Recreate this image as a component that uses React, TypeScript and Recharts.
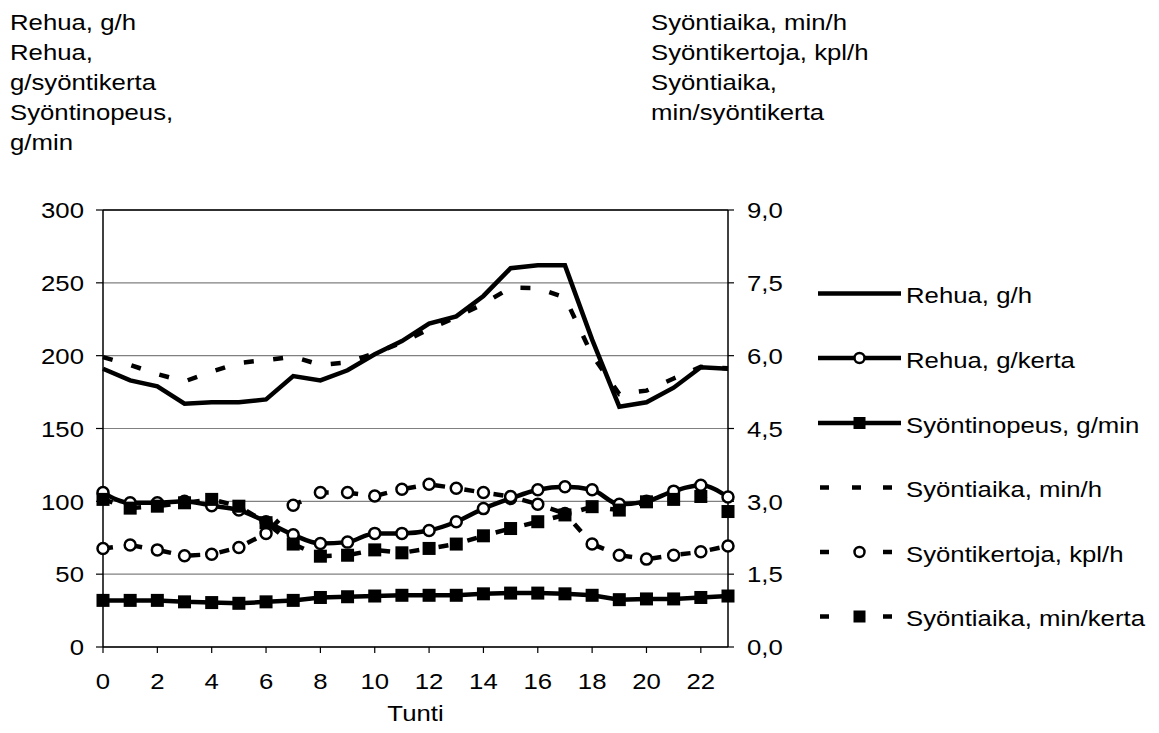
import React from 'react';
import { LineChart, Line, XAxis, YAxis, CartesianGrid, ReferenceLine } from 'recharts';

const hours = [0, 1, 2, 3, 4, 5, 6, 7, 8, 9, 10, 11, 12, 13, 14, 15, 16, 17, 18, 19, 20, 21, 22, 23];
// left axis (g/h, g/kerta, g/min)
const rehuaGh = [191, 183, 179, 167, 168, 168, 170, 186, 183, 190, 201, 210, 222, 227, 241, 260, 262, 262, 211, 165, 168, 178, 192, 191];
const rehuaGKerta = [106, 99, 99, 100, 97, 94, 86, 77, 71, 72, 78, 78, 80, 86, 95, 102, 108, 110, 108, 98, 100, 107, 111, 103];
const syontinopeus = [32, 32, 32, 31, 30.5, 30, 31, 32, 34, 34.5, 35, 35.5, 35.5, 35.5, 36.5, 37, 37, 36.5, 35.5, 32.5, 33, 33, 34, 35];
// right axis (min/h, kpl/h, min/kerta)
const syontiaikaMinH = [5.97, 5.81, 5.62, 5.47, 5.67, 5.85, 5.91, 5.98, 5.81, 5.86, 6.05, 6.27, 6.55, 6.79, 7.07, 7.4, 7.39, 7.2, 6.01, 5.21, 5.28, 5.53, 5.77, 5.74];
const syontikertoja = [2.03, 2.1, 2.0, 1.88, 1.91, 2.05, 2.34, 2.92, 3.18, 3.18, 3.11, 3.25, 3.35, 3.27, 3.18, 3.1, 2.94, 2.75, 2.12, 1.89, 1.81, 1.89, 1.96, 2.08];
const syontiaikaMinKerta = [3.04, 2.86, 2.9, 2.97, 3.04, 2.9, 2.56, 2.12, 1.87, 1.89, 2.0, 1.94, 2.03, 2.12, 2.29, 2.44, 2.58, 2.72, 2.89, 2.82, 2.99, 3.04, 3.1, 2.79];

const leftTicks = [0, 50, 100, 150, 200, 250, 300];
const rightTicks = [0, 1.5, 3, 4.5, 6, 7.5, 9];
const xTicks = [0, 2, 4, 6, 8, 10, 12, 14, 16, 18, 20, 22];
const xTitle = 'Tunti';

const seriesNames = [
  'Rehua, g/h',
  'Rehua, g/kerta',
  'Syöntinopeus, g/min',
  'Syöntiaika, min/h',
  'Syöntikertoja, kpl/h',
  'Syöntiaika, min/kerta',
];
const leftTitleLines = ['Rehua, g/h', 'Rehua,', 'g/syöntikerta', 'Syöntinopeus,', 'g/min'];
const rightTitleLines = ['Syöntiaika, min/h', 'Syöntikertoja, kpl/h', 'Syöntiaika,', 'min/syöntikerta'];

const data = hours.map((h, i) => ({
  hour: h,
  gh: rehuaGh[i],
  gk: rehuaGKerta[i],
  gmin: syontinopeus[i],
  minh: syontiaikaMinH[i],
  kpl: syontikertoja[i],
  mink: syontiaikaMinKerta[i],
}));

const FONT = "'Liberation Sans', Arial, sans-serif";
const FS = 23;
const SX = 1.12;
const DASH = '10 19.5';
const LW = 4.5;

function STxt({ x, y, anchor = 'start', dy, children }: any) {
  return (
    <text
      transform={`translate(${x},${y}) scale(${SX},1)`}
      textAnchor={anchor}
      dy={dy}
      fontSize={FS}
      fontFamily={FONT}
      fill="#000"
    >
      {children}
    </text>
  );
}

const LeftTick = (p: any) => (
  <STxt x={p.x} y={p.y} anchor="end" dy="0.355em">{String(p.payload.value)}</STxt>
);
const RightTick = (p: any) => (
  <STxt x={p.x} y={p.y} anchor="start" dy="0.355em">
    {Number(p.payload.value).toFixed(1).replace('.', ',')}
  </STxt>
);
const BottomTick = (p: any) => (
  <STxt x={p.x} y={p.y} anchor="middle" dy="0.71em">{String(p.payload.value)}</STxt>
);

const circleDot = (p: any) => {
  if (p.cx == null || p.cy == null) return <g key={`c-${p.index}`} />;
  return (
    <circle
      key={`c-${p.dataKey}-${p.index}`}
      cx={p.cx}
      cy={p.cy}
      r={5.5}
      fill="#fff"
      stroke="#000"
      strokeWidth={2.5}
      strokeDasharray="none"
    />
  );
};
const squareDot = (p: any) => {
  if (p.cx == null || p.cy == null) return <g key={`s-${p.index}`} />;
  return <rect key={`s-${p.dataKey}-${p.index}`} x={p.cx - 6.5} y={p.cy - 6.5} width={13} height={13} fill="#000" />;
};

const legendRows = [293.5, 358, 423, 487.5, 552, 616.5];
const legendKinds: Array<{ dashed: boolean; marker: 'none' | 'circle' | 'square' }> = [
  { dashed: false, marker: 'none' },
  { dashed: false, marker: 'circle' },
  { dashed: false, marker: 'square' },
  { dashed: true, marker: 'none' },
  { dashed: true, marker: 'circle' },
  { dashed: true, marker: 'square' },
];

function LegendSample({ y, dashed, marker }: any) {
  const x0 = 818;
  const x1 = 901;
  const mx = 859.5;
  return (
    <g>
      {dashed ? (
        <g>
          <line x1={820} x2={829} y1={y} y2={y} stroke="#000" strokeWidth={LW} />
          {marker === 'none' && <line x1={852} x2={861} y1={y} y2={y} stroke="#000" strokeWidth={LW} />}
          <line x1={883} x2={892} y1={y} y2={y} stroke="#000" strokeWidth={LW} />
        </g>
      ) : (
        <line x1={x0} x2={x1} y1={y} y2={y} stroke="#000" strokeWidth={LW} />
      )}
      {marker === 'circle' && <circle cx={mx} cy={y} r={5} fill="#fff" stroke="#000" strokeWidth={2.5} />}
      {marker === 'square' && <rect x={mx - 6} y={y - 6} width={12} height={12} fill="#000" />}
    </g>
  );
}

export default function App() {
  return (
    <div style={{ position: 'absolute', left: 0, top: 0, width: 1159, height: 733, background: '#fff' }}>
      <LineChart
        width={1159}
        height={733}
        data={data}
        margin={{ top: 210, right: 0, bottom: 12, left: 0 }}
      >
        <CartesianGrid yAxisId="left" vertical={false} stroke="#808080" strokeWidth={1.2} />
        <ReferenceLine yAxisId="left" y={300} stroke="#000" strokeWidth={1.3} />
        <XAxis
          dataKey="hour"
          type="number"
          domain={[0, 23]}
          ticks={xTicks}
          interval={0}
          height={74}
          tickSize={6}
          tickMargin={20}
          axisLine={{ stroke: '#000', strokeWidth: 1.5 }}
          tickLine={{ stroke: '#000', strokeWidth: 1.2 }}
          tick={BottomTick}
          label={{
            position: 'insideBottom',
            content: (p: any) => {
              const vb = p.viewBox || { x: 103, y: 647, width: 625, height: 74 };
              return (
                <STxt x={vb.x + vb.width / 2} y={vb.y + vb.height} anchor="middle">
                  {xTitle}
                </STxt>
              );
            },
          }}
        />
        <YAxis
          yAxisId="left"
          orientation="left"
          domain={[0, 300]}
          ticks={leftTicks}
          interval={0}
          width={103}
          tickSize={7}
          tickMargin={12}
          axisLine={{ stroke: '#000', strokeWidth: 1.5 }}
          tickLine={{ stroke: '#000', strokeWidth: 1.2 }}
          tick={LeftTick}
        />
        <YAxis
          yAxisId="right"
          orientation="right"
          domain={[0, 9]}
          ticks={rightTicks}
          interval={0}
          width={431}
          tickSize={6}
          tickMargin={13}
          axisLine={{ stroke: '#000', strokeWidth: 1.5 }}
          tickLine={{ stroke: '#000', strokeWidth: 1.2 }}
          tick={RightTick}
        />
        <Line
          yAxisId="left"
          dataKey="gh"
          name={seriesNames[0]}
          type="linear"
          stroke="#000"
          strokeWidth={LW}
          dot={false}
          isAnimationActive={false}
        />
        <Line
          yAxisId="left"
          dataKey="gk"
          name={seriesNames[1]}
          type="monotone"
          stroke="#000"
          strokeWidth={LW}
          dot={circleDot}
          isAnimationActive={false}
        />
        <Line
          yAxisId="left"
          dataKey="gmin"
          name={seriesNames[2]}
          type="linear"
          stroke="#000"
          strokeWidth={LW}
          dot={squareDot}
          isAnimationActive={false}
        />
        <Line
          yAxisId="right"
          dataKey="minh"
          name={seriesNames[3]}
          type="linear"
          stroke="#000"
          strokeWidth={LW}
          strokeDasharray={DASH}
          dot={false}
          isAnimationActive={false}
        />
        <Line
          yAxisId="right"
          dataKey="kpl"
          name={seriesNames[4]}
          type="linear"
          stroke="#000"
          strokeWidth={LW}
          strokeDasharray={DASH}
          dot={circleDot}
          isAnimationActive={false}
        />
        <Line
          yAxisId="right"
          dataKey="mink"
          name={seriesNames[5]}
          type="linear"
          stroke="#000"
          strokeWidth={LW}
          strokeDasharray={DASH}
          dot={squareDot}
          isAnimationActive={false}
        />
      </LineChart>
      <svg
        width={1159}
        height={733}
        style={{ position: 'absolute', left: 0, top: 0, pointerEvents: 'none' }}
      >
        {leftTitleLines.map((t, i) => (
          <STxt key={`lt-${i}`} x={10} y={29.5 + i * 30}>{t}</STxt>
        ))}
        {rightTitleLines.map((t, i) => (
          <STxt key={`rt-${i}`} x={651} y={30 + i * 30}>{t}</STxt>
        ))}
        {seriesNames.map((name, i) => (
          <g key={`lg-${i}`}>
            <LegendSample y={legendRows[i]} dashed={legendKinds[i].dashed} marker={legendKinds[i].marker} />
            <STxt x={906} y={legendRows[i] + 9.5}>{name}</STxt>
          </g>
        ))}
      </svg>
    </div>
  );
}
